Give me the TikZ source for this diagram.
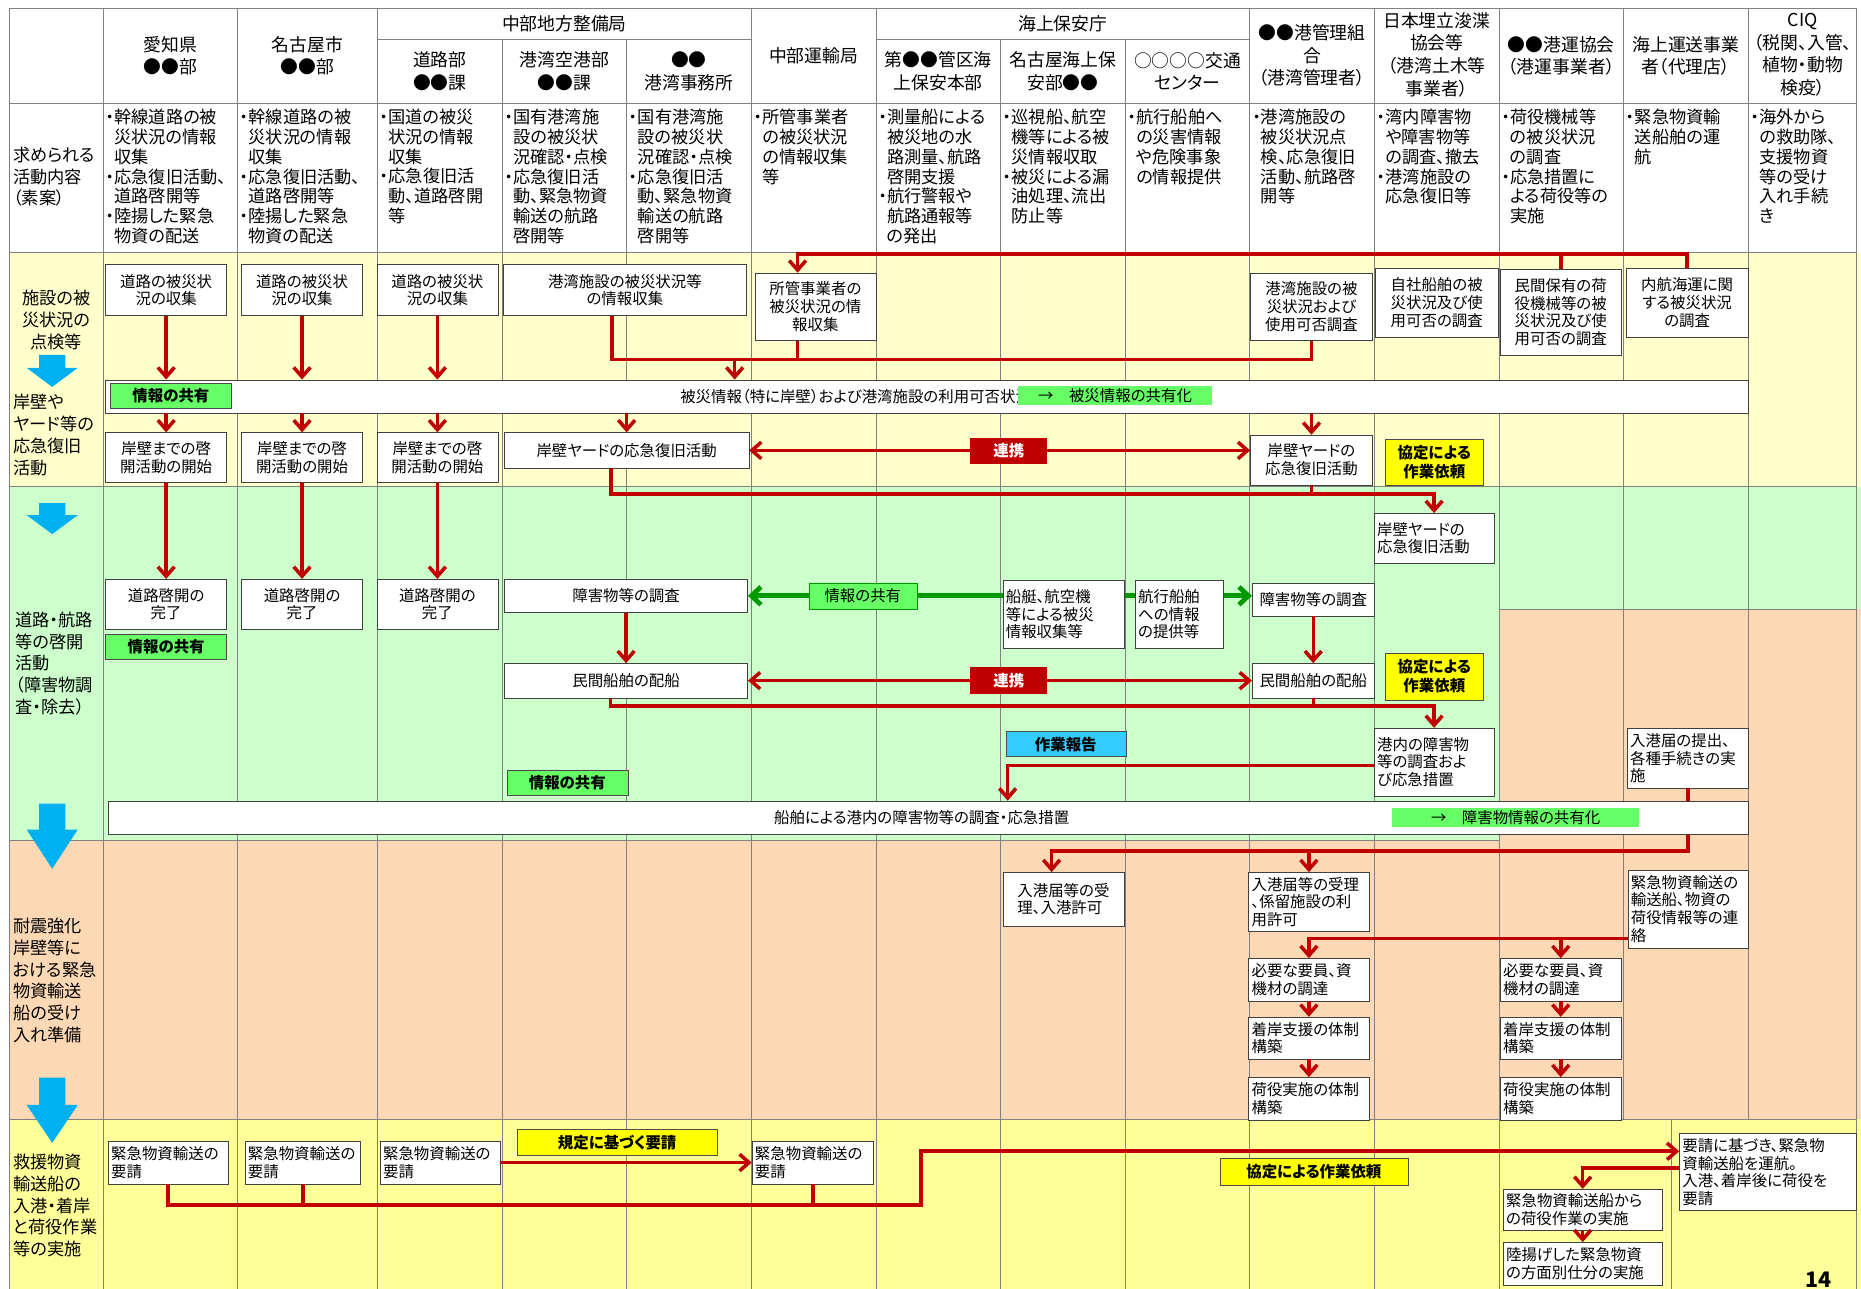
\documentclass[tikz,border=0pt]{standalone}
\usepackage{fontspec}
\setmainfont{Noto Sans CJK JP}[RawFeature=+palt]
\usepackage{tikz}
\usetikzlibrary{positioning, arrows, arrows.meta}
\definecolor{rowyellow}{HTML}{FFFFCC}
\definecolor{rowgreen}{HTML}{CCFFCC}
\definecolor{roworange}{HTML}{FCD9B4}
\definecolor{rowgold}{HTML}{FFFF99}
\definecolor{linered}{HTML}{C00000}
\definecolor{linegreen}{HTML}{009900}
\definecolor{taggreen}{HTML}{66FF66}
\definecolor{tagyellow}{HTML}{FFFF00}
\definecolor{tagblue}{HTML}{33CCFF}
\definecolor{flowblue}{HTML}{00B0F0}
\newcommand{\dind}{\hphantom{・}}
\tikzstyle{sbox} = [rectangle, draw=black!75, fill=white, align=center, inner sep=2.5pt, font=\fontsize{13}{15}\selectfont]
\tikzstyle{lbox} = [sbox, align=left]
\tikzstyle{band} = [rectangle, draw=black!75, fill=white, inner sep=0pt]
\tikzstyle{bandtext} = [inner sep=0pt, font=\fontsize{13}{15}\selectfont]
\tikzstyle{greentag} = [rectangle, draw=black!70, fill=taggreen, inner sep=0pt, font=\fontsize{13}{15}\selectfont\bfseries]
\tikzstyle{greenthin} = [rectangle, draw=linegreen, fill=taggreen, inner sep=0pt, font=\fontsize{13}{15}\selectfont]
\tikzstyle{sharetag} = [rectangle, fill=taggreen, inner sep=0pt, font=\fontsize{13}{15}\selectfont]
\tikzstyle{yeltag} = [rectangle, draw=black!70, fill=tagyellow, align=center, inner sep=0pt, font=\fontsize{13}{16}\selectfont\bfseries]
\tikzstyle{redtag} = [rectangle, fill=linered, text=white, inner sep=0pt, font=\fontsize{13}{15}\selectfont\bfseries]
\tikzstyle{bluetag} = [rectangle, draw=black!70, fill=tagblue, inner sep=0pt, font=\fontsize{13}{15}\selectfont\bfseries]
\tikzstyle{rline} = [color=linered, line width=3pt]
\tikzstyle{rarrow} = [rline, ->, >={Straight Barb[length=8pt,width=14pt]}]
\tikzstyle{garrow} = [color=linegreen, line width=4pt, <->, >={Straight Barb[length=8pt,width=15pt]}]
\tikzstyle{gline} = [draw=black!50, line width=0.6pt]
\tikzstyle{hdr} = [align=center, inner sep=0pt, font=\fontsize{15}{19}\selectfont]
\tikzstyle{desc} = [anchor=north west, align=left, inner sep=0pt, font=\fontsize{14.5}{16.6}\selectfont]
\tikzstyle{rowlab} = [align=left, inner sep=0pt, font=\fontsize{14.5}{18.3}\selectfont]

\begin{document}
\begin{tikzpicture}[x=1pt, y=-1pt]
    \fill [white] (0,0) rectangle (1568,1086);
    \useasboundingbox (0,0) rectangle (1568,1086);
    \fill [rowyellow] (8,213) rectangle (1568,410);
    \fill [rowgreen] (8,410) rectangle (1568,708);
    \fill [roworange] (1263,513) rectangle (1568,708);
    \fill [roworange] (8,708) rectangle (1568,943);
    \fill [rowgold] (8,943) rectangle (1568,1086);
    \foreach \x in {8,87,200,318,633,738,1053,1158,1263,1564} \draw [gline] (\x,7) -- (\x,1086);
    \foreach \x in {423,528,843,948} \draw [gline] (\x,33) -- (\x,1086);
    \foreach \x in {1368,1473} \draw [gline] (\x,7) -- (\x,943);
    \draw [gline] (1408,943) -- (1408,1086);
    \foreach \y in {7,87,213,410,943} \draw [gline] (8,\y) -- (1564,\y);
    \draw [gline] (8,708) -- (1263,708);
    \draw [gline] (1263,513) -- (1564,513);
    \draw [gline] (318,33) -- (633,33);
    \draw [gline] (738,33) -- (1053,33);
    \foreach \ta/\hb/\tp in {299/310/326, 424/434/450, 677/699/732, 908/931/963}
      \fill [flowblue] (33,\ta) -- (55,\ta) -- (55,\hb) -- (65.5,\hb) -- (44,\tp) -- (22.5,\hb) -- (33,\hb) -- cycle;

    \node (hd1) [hdr] at (143.5,47) {愛知県\\●●部};
    \node (hd2) [hdr] at (259,47) {名古屋市\\●●部};
    \node (hd3) [hdr] at (475.5,20) {中部地方整備局};
    \node (hd3a) [hdr] at (370.5,60) {道路部\\●●課};
    \node (hd3b) [hdr] at (475.5,60) {港湾空港部\\●●課};
    \node (hd3c) [hdr] at (580.5,60) {●●\\港湾事務所};
    \node (hd4) [hdr] at (685.5,47) {中部運輸局};
    \node (hd5) [hdr] at (895.5,20) {海上保安庁};
    \node (hd5a) [hdr] at (790.5,60) {第●●管区海\\上保安本部};
    \node (hd5b) [hdr] at (895.5,60) {名古屋海上保\\安部●●};
    \node (hd5c) [hdr] at (1000.5,60) {○○○○交通\\センター};
    \node (hd6) [hdr] at (1105.5,47) {●●港管理組\\合\\（港湾管理者）};
    \node (hd7) [hdr] at (1210.5,46) {日本埋立浚渫\\協会等\\（港湾土木等\\事業者）};
    \node (hd8) [hdr] at (1315.5,47) {●●港運協会\\（港運事業者）};
    \node (hd9) [hdr] at (1420.5,47) {海上運送事業\\者（代理店）};
    \node (hd10) [hdr] at (1519,46) {CIQ\\（税関、入管、\\植物・動物\\検疫）};

    \node (ds1) [desc] at (89,92) {・幹線道路の被\\\dind 災状況の情報\\\dind 収集\\・応急復旧活動、\\\dind 道路啓開等\\・陸揚した緊急\\\dind 物資の配送};
    \node (ds2) [desc] at (202,92) {・幹線道路の被\\\dind 災状況の情報\\\dind 収集\\・応急復旧活動、\\\dind 道路啓開等\\・陸揚した緊急\\\dind 物資の配送};
    \node (ds3) [desc] at (320,92) {・国道の被災\\\dind 状況の情報\\\dind 収集\\・応急復旧活\\\dind 動、道路啓開\\\dind 等};
    \node (ds4) [desc] at (425,92) {・国有港湾施\\\dind 設の被災状\\\dind 況確認・点検\\・応急復旧活\\\dind 動、緊急物資\\\dind 輸送の航路\\\dind 啓開等};
    \node (ds5) [desc] at (530,92) {・国有港湾施\\\dind 設の被災状\\\dind 況確認・点検\\・応急復旧活\\\dind 動、緊急物資\\\dind 輸送の航路\\\dind 啓開等};
    \node (ds6) [desc] at (635,92) {・所管事業者\\\dind の被災状況\\\dind の情報収集\\\dind 等};
    \node (ds7) [desc] at (740,92) {・測量船による\\\dind 被災地の水\\\dind 路測量、航路\\\dind 啓開支援\\・航行警報や\\\dind 航路通報等\\\dind の発出};
    \node (ds8) [desc] at (845,92) {・巡視船、航空\\\dind 機等による被\\\dind 災情報収取\\・被災による漏\\\dind 油処理、流出\\\dind 防止等};
    \node (ds9) [desc] at (950,92) {・航行船舶へ\\\dind の災害情報\\\dind や危険事象\\\dind の情報提供};
    \node (ds10) [desc] at (1055,92) {・港湾施設の\\\dind 被災状況点\\\dind 検、応急復旧\\\dind 活動、航路啓\\\dind 開等};
    \node (ds11) [desc] at (1160,92) {・湾内障害物\\\dind や障害物等\\\dind の調査、撤去\\・港湾施設の\\\dind 応急復旧等};
    \node (ds12) [desc] at (1265,92) {・荷役機械等\\\dind の被災状況\\\dind の調査\\・応急措置に\\\dind よる荷役等の\\\dind 実施};
    \node (ds13) [desc] at (1370,92) {・緊急物資輸\\\dind 送船舶の運\\\dind 航};
    \node (ds14) [desc] at (1475,92) {・海外から\\\dind の救助隊、\\\dind 支援物資\\\dind 等の受け\\\dind 入れ手続\\\dind き};

    \node (r0) [rowlab, anchor=west] at (11,149) {求められる\\活動内容\\（素案）};
    \node (r1) [rowlab, align=center] at (47.5,269.5) {施設の被\\災状況の\\点検等};
    \node (r2) [rowlab, anchor=west] at (11,366.5) {岸壁や\\ヤード等の\\応急復旧\\活動};
    \node (r3) [rowlab, anchor=west] at (13,559) {道路・航路\\等の啓開\\活動\\（障害物調\\査・除去）};
    \node (r4) [rowlab, anchor=west] at (11,826) {耐震強化\\岸壁等に\\おける緊急\\物資輸送\\船の受け\\入れ準備};
    \node (r5) [rowlab, anchor=west] at (11,1015.7) {救援物資\\輸送船の\\入港・着岸\\と荷役作業\\等の実施};

    \node (a1) [sbox, minimum width=102, minimum height=43] at (140,244.5) {道路の被災状\\況の収集};
    \node (a2) [sbox, minimum width=102, minimum height=43] at (254.5,244.5) {道路の被災状\\況の収集};
    \node (a3) [sbox, minimum width=102, minimum height=43] at (368.5,244.5) {道路の被災状\\況の収集};
    \node (a4) [sbox, minimum width=205, minimum height=43] at (526.5,244.5) {港湾施設の被災状況等\\の情報収集};
    \node (a5) [sbox, minimum width=102, minimum height=57] at (687,258.5) {所管事業者の\\被災状況の情\\報収集};
    \node (a6) [sbox, minimum width=103, minimum height=57] at (1105,258.5) {港湾施設の被\\災状況および\\使用可否調査};
    \node (a7) [sbox, minimum width=103, minimum height=58] at (1210.5,255) {自社船舶の被\\災状況及び使\\用可否の調査};
    \node (a8) [sbox, minimum width=102, minimum height=72] at (1315,263) {民間保有の荷\\役機械等の被\\災状況及び使\\用可否の調査};
    \node (a9) [sbox, minimum width=103, minimum height=58] at (1421.5,255) {内航海運に関\\する被災状況\\の調査};

    \node (band1) [band, minimum width=1384, minimum height=28] at (781,334) {};
    \node (band1txt) [bandtext, anchor=west] at (573,334) {被災情報（特に岸壁）および港湾施設の利用可否状況};
    \node (share1) [sharetag, minimum width=163, minimum height=16] at (939.5,333) {→　被災情報の共有化};
    \node (info1) [greentag, minimum width=102, minimum height=21] at (144,333.5) {情報の共有};

    \coordinate (t0) at (0,214);
    \coordinate (a5n) at ([xshift=-15]a5.north);
    \draw [rarrow] (a9.north) |- (a5n |- t0) -- (a5n);
    \draw [rline] (a8.north) -- (a8.north |- t0);
    \coordinate (t1) at (0,303);
    \coordinate (a4s) at ([xshift=-11]a4.south);
    \coordinate (a5s) at ([xshift=-15]a5.south);
    \coordinate (a4d) at (619,303);
    \draw [rline] (a4s) |- (a6.south |- t1) -- (a6.south);
    \draw [rline] (a5s) -- (a5s |- t1);
    \draw [rarrow] (a4d) -- (a4d |- band1.north);
    \foreach \n in {a1,a2,a3}
      \draw [rarrow] (\n.south) -- (\n.south |- band1.north);

    \node (b1) [sbox, minimum width=102, minimum height=42] at (140,385.5) {岸壁までの啓\\開活動の開始};
    \node (b2) [sbox, minimum width=102, minimum height=42] at (254.5,385.5) {岸壁までの啓\\開活動の開始};
    \node (b3) [sbox, minimum width=102, minimum height=42] at (368.5,385.5) {岸壁までの啓\\開活動の開始};
    \node (b4) [sbox, minimum width=206, minimum height=30] at (528,379.5) {岸壁ヤードの応急復旧活動};
    \node (b5) [sbox, minimum width=103, minimum height=42] at (1105,387.5) {岸壁ヤードの\\応急復旧活動};
    \foreach \n in {b1,b2,b3,b4,b5}
      \draw [rarrow] (\n.north |- band1.south) -- (\n.north);
    \draw [rarrow, <->] (b4.east) -- (b4.east -| b5.west);
    \node (rk1) [redtag, minimum width=65, minimum height=22] at (850,380) {連携};
    \node (ag1) [yeltag, minimum width=83, minimum height=39] at (1208.5,389.5) {協定による\\作業依頼};

    \node (c1) [lbox, text width=96, minimum height=42] at (1208.3,453.5) {岸壁ヤードの\\応急復旧活動};
    \coordinate (t2) at (0,416);
    \coordinate (b4s) at ([xshift=-13]b4.south);
    \draw [rarrow] (b4s) |- (b5.south |- t2) -| (c1.north);
    \draw [rline] (b5.south) -- (b5.south |- t2);

    \node (d1) [sbox, minimum width=102, minimum height=42] at (140,509) {道路啓開の\\完了};
    \node (d2) [sbox, minimum width=102, minimum height=42] at (254.5,509) {道路啓開の\\完了};
    \node (d3) [sbox, minimum width=102, minimum height=42] at (368.5,509) {道路啓開の\\完了};
    \foreach \n/\m in {b1/d1,b2/d2,b3/d3}
      \draw [rarrow] (\n.south) -- (\m.north);
    \node (info2) [greentag, minimum width=102, minimum height=21] at (140,545) {情報の共有};

    \node (e1) [sbox, minimum width=205, minimum height=28] at (527.5,502) {障害物等の調査};
    \node (e2) [sbox, minimum width=205, minimum height=29] at (527.5,573.5) {民間船舶の配船};
    \node (f3) [sbox, minimum width=103, minimum height=28] at (1106.5,505) {障害物等の調査};
    \node (f4) [sbox, minimum width=103, minimum height=29] at (1106.5,573.5) {民間船舶の配船};
    \draw [garrow] (e1.east) -- (e1.east -| f3.west);
    \node (info4) [greenthin, minimum width=91, minimum height=22] at (727,502) {情報の共有};
    \node (f1) [lbox, text width=97, minimum height=57] at (896,517.5) {船艇、航空機\\等による被災\\情報収集等};
    \node (f2) [lbox, text width=69.5, minimum height=57] at (993.7,517.5) {航行船舶\\への情報\\の提供等};
    \draw [rarrow] (e1.south) -- (e2.north);
    \draw [rarrow] (f3.south) -- (f4.north);
    \draw [rarrow, <->] (e2.east) -- (e2.east -| f4.west);
    \node (rk2) [redtag, minimum width=65, minimum height=23] at (850,573.5) {連携};
    \node (ag2) [yeltag, minimum width=82, minimum height=40] at (1208.5,570) {協定による\\作業依頼};

    \node (g1) [lbox, text width=96, minimum height=57] at (1208.3,642) {港内の障害物\\等の調査およ\\び応急措置};
    \coordinate (t3) at (0,595);
    \coordinate (e2s) at ([xshift=-13]e2.south);
    \draw [rarrow] (e2s) |- (f4.south |- t3) -| (g1.north);
    \draw [rline] (f4.south) -- (f4.south |- t3);
    \node (rep) [bluetag, minimum width=101, minimum height=21] at (898,627) {作業報告};
    \node (info3) [greentag, minimum width=102, minimum height=21] at (478,659.5) {情報の共有};

    \node (band2) [band, minimum width=1382, minimum height=28.5] at (782,689) {};
    \node (band2txt) [bandtext, anchor=west] at (652,689) {船舶による港内の障害物等の調査・応急措置};
    \node (share2) [sharetag, minimum width=208, minimum height=16] at (1277,689) {→　障害物情報の共有化};
    \coordinate (g1w) at ([yshift=-3]g1.west);
    \draw [rarrow] (g1w) -| ([xshift=67]band2.north);

    \node (h1) [lbox, text width=97, minimum height=50] at (1422,638.8) {入港届の提出、\\各種手続きの実\\施};
    \node (i1) [sbox, align=left, minimum width=102, minimum height=45] at (896,757.5) {入港届等の受\\理、入港許可};
    \node (i2) [lbox, text width=96.5, minimum height=50] at (1102.8,760) {入港届等の受理\\、係留施設の利\\用許可};
    \coordinate (t4) at (0,717);
    \coordinate (i1n) at ([xshift=-10]i1.north);
    \draw [rline] (h1.south) -- (h1.south |- band2.north);
    \draw [rarrow] (h1.south |- band2.south) |- (i2.north |- t4) -| (i1n);
    \draw [rarrow] (i2.north |- t4) -- (i2.north);

    \node (j1) [lbox, text width=96.5, minimum height=65.7] at (1422.3,765.8) {緊急物資輸送の\\輸送船、物資の\\荷役情報等の連\\絡};
    \node (k1) [lbox, text width=96.5, minimum height=36] at (1102.8,825.5) {必要な要員、資\\機材の調達};
    \node (l1) [lbox, text width=96.5, minimum height=35.4, below=13pt of k1] {着岸支援の体制\\構築};
    \node (m1) [lbox, text width=96.5, minimum height=36, below=15pt of l1] {荷役実施の体制\\構築};
    \node (k2) [lbox, text width=97, minimum height=36] at (1315,825.5) {必要な要員、資\\機材の調達};
    \node (l2) [lbox, text width=97, minimum height=35.4, below=13pt of k2] {着岸支援の体制\\構築};
    \node (m2) [lbox, text width=97, minimum height=36, below=15pt of l2] {荷役実施の体制\\構築};
    \coordinate (t5) at (0,790.6);
    \draw [rarrow] (j1.west |- t5) -| (k1.north);
    \draw [rarrow] (k2.north |- t5) -- (k2.north);
    \foreach \p/\q in {k1/l1,l1/m1,k2/l2,l2/m2}
      \draw [rarrow] (\p.south) -- (\q.north);

    \node (n1) [lbox, text width=96, minimum height=36.5] at (141.7,979.5) {緊急物資輸送の\\要請};
    \node (n2) [lbox, text width=92.4, minimum height=36.5] at (255.1,979.5) {緊急物資輸送の\\要請};
    \node (n3) [lbox, text width=96, minimum height=36.5] at (370.8,979.5) {緊急物資輸送の\\要請};
    \node (n4) [lbox, text width=97.4, minimum height=36.5] at (684.8,979.5) {緊急物資輸送の\\要請};
    \node (rule) [yeltag, minimum width=169, minimum height=22] at (520,962.5) {規定に基づく要請};
    \draw [rarrow] (n3.east) -- (n3.east -| n4.west);
    \node (o1) [lbox, text width=144, minimum height=65] at (1489.5,987.5) {要請に基づき、緊急物\\資輸送船を運航。\\入港、着岸後に荷役を\\要請};
    \coordinate (t6) at (776,1015.3);
    \coordinate (o1w) at ([yshift=17.5]o1.west);
    \draw [rarrow] (n1.south) |- (t6) |- (o1w);
    \draw [rline] (n2.south) -- (n2.south |- t6);
    \draw [rline] (n4.south) -- (n4.south |- t6);
    \node (agree) [yeltag, minimum width=158.6, minimum height=22.4] at (1107,987.2) {協定による作業依頼};
    \node (p1) [lbox, text width=129, minimum height=35] at (1333.5,1019.4) {緊急物資輸送船から\\の荷役作業の実施};
    \node (q1) [lbox, text width=129, minimum height=36, below=9.5pt of p1] {陸揚げした緊急物資\\の方面別仕分の実施};
    \draw [rarrow] ([yshift=3.5]o1.west) -| (p1.north);
    \draw [rarrow] (p1.south) -- (q1.north);

    \node (pg) [anchor=south, inner sep=0pt, font=\fontsize{18}{18}\selectfont\bfseries] at (1532,1085) {14};
\end{tikzpicture}
\end{document}
